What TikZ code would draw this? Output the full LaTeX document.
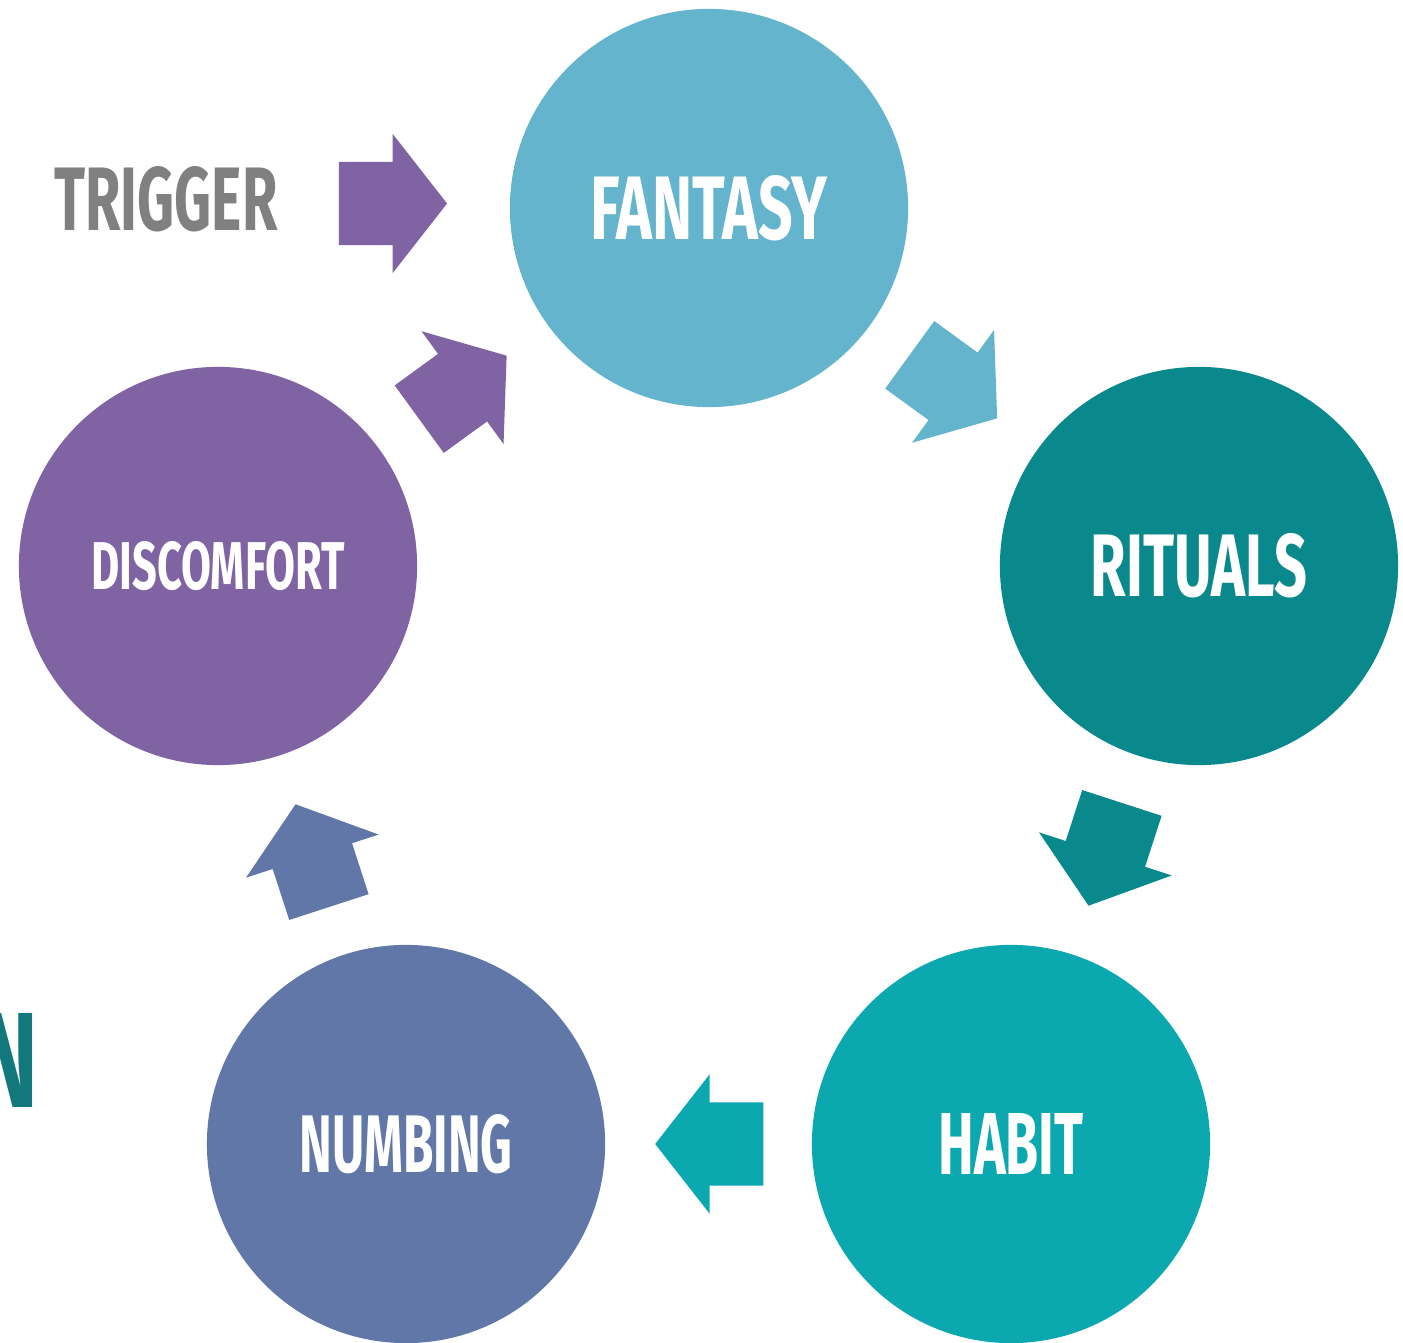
\documentclass[tikz,border=0pt]{standalone}
\usepackage{fontspec}
\setmainfont{Fira Sans}
\usepackage{graphicx}
\usetikzlibrary{shapes.arrows, calc}

\definecolor{fantasycol}{HTML}{65B4CD}
\definecolor{ritualscol}{HTML}{0A898D}
\definecolor{habitcol}{HTML}{0BA8AF}
\definecolor{numbingcol}{HTML}{6077A8}
\definecolor{discomfortcol}{HTML}{7F63A3}
\definecolor{triggercol}{HTML}{808080}
\definecolor{cutwordcol}{HTML}{12787C}

\newcommand{\fitword}[3]{\resizebox{#1}{#2}{\bfseries #3}}

\begin{document}
\begin{tikzpicture}[x=0.01cm, y=-0.01cm,
    stage/.style={circle, minimum size=3.98cm, inner sep=0pt, text=white},
    blockarrow/.style={single arrow, minimum height=1.08cm, minimum width=0pt,
      inner xsep=0pt, inner ysep=0.41cm,
      single arrow head extend=0.28cm, single arrow tip angle=104,
      rotate=#1, xshift=-0.17cm},
    blockarrow/.default=0]
        \useasboundingbox (0,0) rectangle (1403,1343);
        % the five stages
        \node[stage, fill=fantasycol] (fantasy) at (709,208) {\fitword{2.37cm}{0.64cm}{FANTASY}};
        \node[stage, fill=ritualscol] (rituals) at (1199,566) {\fitword{2.16cm}{0.63cm}{RITUALS}};
        \node[stage, fill=habitcol] (habit) at (1011,1144) {\fitword{1.45cm}{0.61cm}{HABIT}};
        \node[stage, fill=numbingcol] (numbing) at (406,1144) {\fitword{2.13cm}{0.58cm}{NUMBING}};
        \node[stage, fill=discomfortcol] (discomfort) at (218,566) {\fitword{2.53cm}{0.48cm}{DISCOMFORT}};
        % texts outside the cycle
        \node[text=triggercol, inner sep=0pt] (trigger) at (166,199) {\fitword{2.23cm}{0.64cm}{TRIGGER}};
        \node[text=cutwordcol, inner sep=0pt, anchor=east] (cutword) at (39,1060) {\fitword{0.62cm}{0.94cm}{N}};
        % arrows between them
        \node[blockarrow, fill=discomfortcol] (trigarrow) at ($(trigger.east)!0.5!(fantasy.west)$) {};
        \node[blockarrow=-36, fill=fantasycol] (arrfr) at ($(fantasy)!0.5!(rituals)$) {};
        \node[blockarrow=-108, fill=ritualscol] (arrrh) at ($(rituals)!0.5!(habit)$) {};
        \node[blockarrow=180, fill=habitcol] (arrhn) at ($(habit)!0.5!(numbing)$) {};
        \node[blockarrow=108, fill=numbingcol] (arrnd) at ($(numbing)!0.5!(discomfort)$) {};
        \node[blockarrow=36, fill=discomfortcol] (arrdf) at ($(discomfort)!0.5!(fantasy)$) {};
\end{tikzpicture}
\end{document}
